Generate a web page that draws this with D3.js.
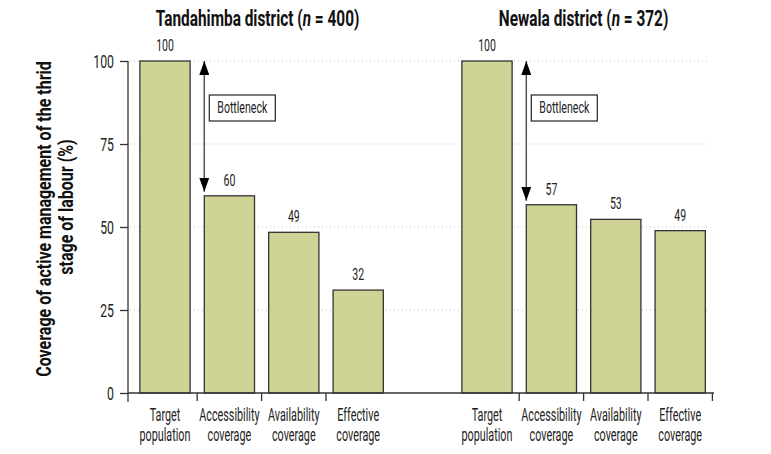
<!DOCTYPE html>
<html>
<head>
<meta charset="utf-8">
<script src="https://cdn.jsdelivr.net/npm/d3@7"></script>
<style>
  body { margin: 0; background: #fff; }
  svg { font-family: Roboto, "Liberation Sans", sans-serif; }
</style>
</head>
<body>
<div id="chart"></div>
<script>
// data
var districts = ['Tandahimba district', 'Newala district'];
var districtN = [400, 372];
var stages = ['Target population', 'Accessibility coverage', 'Availability coverage', 'Effective coverage'];
var tandahimbaValues = [100, 59.4, 48.4, 31];
var tandahimbaLabels = ['100', '60', '49', '32'];
var newalaValues = [100, 56.7, 52.3, 48.9];
var newalaLabels = ['100', '57', '53', '49'];
var yTicks = [0, 25, 50, 75, 100];
var yTitle = ['Coverage of active management of the thrid', 'stage of labour (%)'];

var width = 771, height = 454;
var svg = d3.select('#chart').append('svg')
  .attr('width', width)
  .attr('height', height);

// squeeze text horizontally, the original uses a condensed face
var squeeze = function(sel, f, extra) {
  sel.each(function() {
    var t = d3.select(this);
    var tx = +t.attr('x') || 0, ty = +t.attr('y') || 0;
    t.attr('x', 0).attr('y', 0)
      .attr('transform', 'translate(' + tx + ',' + ty + ')' + (extra || '') + ' scale(' + f + ',1)');
  });
};

// 9 slots: 4 bars, a gap, 4 bars
var keys = stages.map(function(s, i) { return 'T' + i; })
  .concat(['gap'])
  .concat(stages.map(function(s, i) { return 'N' + i; }));

var x = d3.scaleBand().domain(keys).range([132.8, 712.4])
  .paddingInner(0.22).paddingOuter(0.11);
var y = d3.scaleLinear().domain([0, 100]).range([393, 61]);

var bars = [];
stages.forEach(function(s, i) {
  bars.push({ key: 'T' + i, stage: s, v: tandahimbaValues[i], label: tandahimbaLabels[i] });
});
stages.forEach(function(s, i) {
  bars.push({ key: 'N' + i, stage: s, v: newalaValues[i], label: newalaLabels[i] });
});

var axisLeft = 128, axisRight = 714;

// grid lines
svg.append('g').selectAll('line').data(yTicks.filter(function(d) { return d > 0; }))
  .enter().append('line')
  .attr('x1', axisLeft + 2).attr('x2', 708)
  .attr('y1', function(d) { return y(d); })
  .attr('y2', function(d) { return y(d); })
  .attr('stroke', '#bbb')
  .attr('stroke-width', 1)
  .attr('stroke-dasharray', '1,3');

// bars
svg.append('g').selectAll('rect').data(bars)
  .enter().append('rect')
  .attr('x', function(d) { return x(d.key); })
  .attr('y', function(d) { return y(d.v); })
  .attr('width', x.bandwidth())
  .attr('height', function(d) { return y(0) - y(d.v); })
  .attr('fill', '#d0d396')
  .attr('stroke', '#333')
  .attr('stroke-width', 1.3);

// value labels
var vl = svg.append('g').selectAll('text').data(bars)
  .enter().append('text')
  .attr('x', function(d) { return x(d.key) + x.bandwidth() / 2; })
  .attr('y', function(d) { return y(d.v) - 10; })
  .attr('text-anchor', 'middle')
  .attr('font-size', 17)
  .attr('fill', '#222')
  .text(function(d) { return d.label; });
squeeze(vl, 0.62);

// y axis
var yAxis = d3.axisLeft(y).tickValues(yTicks).tickSize(8).tickPadding(5);
var gy = svg.append('g').attr('transform', 'translate(' + axisLeft + ',0)').call(yAxis);
gy.select('.domain').remove();
gy.selectAll('line').attr('stroke', '#333').attr('stroke-width', 1.3);
gy.selectAll('text').attr('font-size', 18).attr('fill', '#222')
  .attr('font-family', 'Roboto, sans-serif')
  .attr('x', -14).attr('y', 0).attr('dy', '0.35em');
squeeze(gy.selectAll('text'), 0.68);
gy.append('line').attr('x1', 0).attr('x2', 0).attr('y1', y(100)).attr('y2', y(0) + 9)
  .attr('stroke', '#333').attr('stroke-width', 1.3);

// x baseline and ticks
svg.append('line').attr('x1', axisLeft).attr('x2', axisRight)
  .attr('y1', y(0)).attr('y2', y(0))
  .attr('stroke', '#333').attr('stroke-width', 1.3);
var step = x.step();
var tickKeys = ['T0', 'T1', 'T2', 'N0', 'N1', 'N2', 'N3'];
svg.append('g').selectAll('line').data(tickKeys)
  .enter().append('line')
  .attr('x1', function(d) { return x(d) + x.bandwidth() + step * x.paddingInner() / 2; })
  .attr('x2', function(d) { return x(d) + x.bandwidth() + step * x.paddingInner() / 2; })
  .attr('y1', y(0)).attr('y2', y(0) + 8)
  .attr('stroke', '#333').attr('stroke-width', 1.3);

// category labels (two lines, one text each)
var catLines = [];
bars.forEach(function(d) {
  d.stage.split(' ').forEach(function(p, i) {
    catLines.push({ key: d.key, line: i, text: p });
  });
});
var cat = svg.append('g').selectAll('text').data(catLines)
  .enter().append('text')
  .attr('x', function(d) { return x(d.key) + x.bandwidth() / 2; })
  .attr('y', function(d) { return 421 + d.line * 20; })
  .attr('text-anchor', 'middle')
  .attr('font-size', 18)
  .attr('fill', '#222')
  .text(function(d) { return d.text; });
squeeze(cat, 0.6);

// district titles
var titleKeys = [['T0', 'T3'], ['N0', 'N3']];
districts.forEach(function(name, i) {
  var cx = (x(titleKeys[i][0]) + x(titleKeys[i][1]) + x.bandwidth()) / 2;
  var t = svg.append('text')
    .attr('x', cx - (i === 0 ? 4 : 0)).attr('y', 26)
    .attr('text-anchor', 'middle')
    .attr('font-size', 22)
    .attr('font-weight', 'bold')
    .attr('fill', '#111');
  t.append('tspan').text(name + ' (');
  t.append('tspan').attr('font-style', 'italic').text('n');
  t.append('tspan').text(' = ' + districtN[i] + ')');
  squeeze(t, 0.7);
});

// y axis title
var yt = svg.append('g').selectAll('text').data(yTitle)
  .enter().append('text')
  .attr('x', function(d, i) { return 51 + i * 22; })
  .attr('y', function(d, i) { return 219 - i * 12; })
  .attr('text-anchor', 'middle')
  .attr('font-size', 20)
  .attr('font-weight', 'bold')
  .attr('fill', '#111')
  .text(function(d) { return d; });
squeeze(yt, 0.8, ' rotate(-90)');

// bottleneck arrows
var defs = svg.append('defs');
defs.append('marker').attr('id', 'head')
  .attr('viewBox', '0 0 14 10').attr('refX', 14).attr('refY', 5)
  .attr('markerWidth', 14).attr('markerHeight', 10)
  .attr('markerUnits', 'userSpaceOnUse')
  .attr('orient', 'auto-start-reverse')
  .append('path').attr('d', 'M0,0L14,5L0,10Z').attr('fill', '#000');

var arrows = [
  { key: 'T1', top: tandahimbaValues[0], bottom: tandahimbaValues[1] },
  { key: 'N1', top: newalaValues[0], bottom: newalaValues[1] }
];
arrows.forEach(function(a) {
  var ax = x(a.key);
  svg.append('line')
    .attr('x1', ax).attr('x2', ax)
    .attr('y1', y(a.bottom) - 4).attr('y2', y(a.top))
    .attr('stroke', '#555').attr('stroke-width', 1.5)
    .attr('marker-start', 'url(#head)')
    .attr('marker-end', 'url(#head)');
  svg.append('rect')
    .attr('x', ax + 5).attr('y', 95)
    .attr('width', 66).attr('height', 26)
    .attr('fill', '#fff').attr('stroke', '#222').attr('stroke-width', 1.2);
  var bt = svg.append('text')
    .attr('x', ax + 38).attr('y', 113)
    .attr('text-anchor', 'middle')
    .attr('font-size', 16)
    .attr('fill', '#222')
    .text('Bottleneck');
  squeeze(bt, 0.66);
});
</script>
</body>
</html>
